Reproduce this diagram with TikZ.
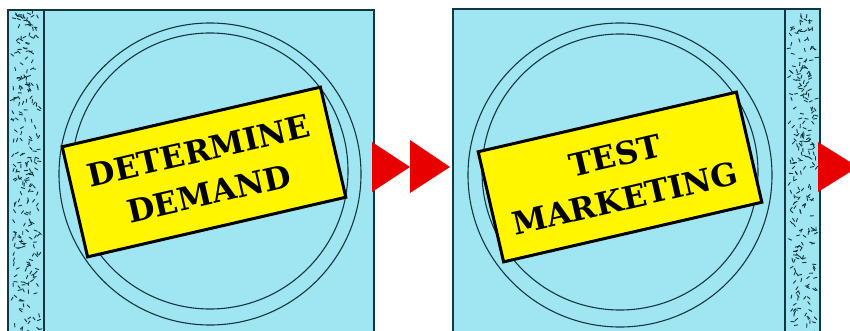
\documentclass[tikz,border=0pt]{standalone}
\usepackage{fontspec}
\setmainfont{DejaVu Serif}
\usepackage{tikz}

\definecolor{paper}{RGB}{160,230,242}
\definecolor{inkline}{RGB}{18,55,64}
\definecolor{signyellow}{RGB}{255,246,0}
\definecolor{cuered}{RGB}{232,0,0}

\begin{document}
\begin{tikzpicture}[x=1pt, y=-1pt,
  panel/.style={fill=paper, draw=inkline, line width=1.6pt},
  speck/.style={draw=inkline, line width=0.9pt, line cap=round},
  ring/.style={draw=inkline, line width=1.1pt},
  signbox/.style={draw, line width=3pt, fill=signyellow, rotate=13,
    minimum width=265pt, minimum height=113pt, align=center,
    font=\fontsize{31.5}{44}\selectfont\bfseries},
  pointer/.style={fill=cuered}]
  \useasboundingbox (0,0) rectangle (850,331);
  \clip (0,0) rectangle (850,331);

  % first panel, stripe on the left
  \draw[panel] (8,10) rectangle (374,345);
  \draw[panel] (8,10) rectangle (44,345);
  % second panel, stripe on the right
  \draw[panel] (453,9) rectangle (820,345);
  \draw[panel] (785,9) rectangle (820,345);

  % specks in the stripes
  \pgfmathsetseed{11}
  \foreach \sx in {10,787} {
    \foreach \k in {1,...,260} {
      \pgfmathsetmacro{\px}{\sx+3+26*rnd}
      \pgfmathsetmacro{\py}{13+325*rnd}
      \pgfmathsetmacro{\pa}{360*rnd}
      \draw[speck] (\px,\py) -- ++(\pa:3.5);
    }
  }

  % rings
  \draw[ring] (210,174) circle (151);
  \draw[ring] (210,171) circle (138);
  \draw[ring] (620,175) circle (152);
  \draw[ring] (620,172) circle (138);

  % signs
  \node[signbox] (demand) at (204,172) {DETERMINE\\DEMAND};
  \node[signbox] (testmkt) at (620,177) {TEST\\MARKETING};

  % red cues
  \fill[pointer] (372,142) -- (410,167) -- (372,192) -- cycle;
  \fill[pointer] (410,140) -- (450,167) -- (410,193) -- cycle;
  \fill[pointer] (818,142) -- (858,167) -- (818,192) -- cycle;
\end{tikzpicture}
\end{document}
